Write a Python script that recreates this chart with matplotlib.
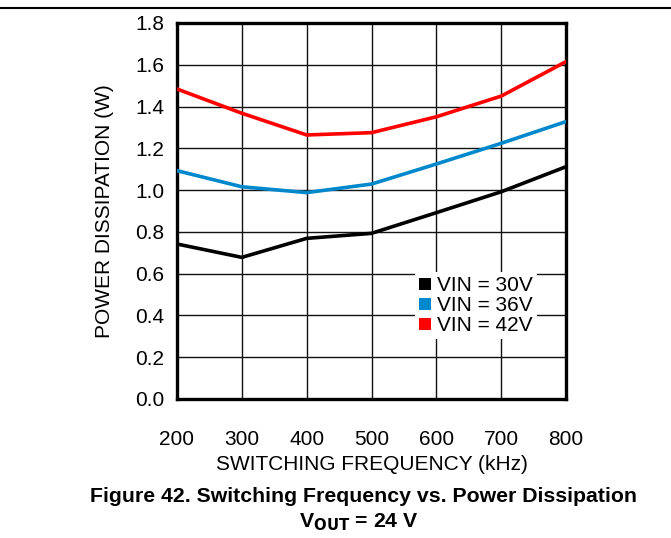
import matplotlib
matplotlib.use("Agg")
import matplotlib.pyplot as plt
from matplotlib.patches import Patch
from matplotlib.lines import Line2D

plt.rcParams['font.family'] = ['Liberation Sans', 'DejaVu Sans']

freq = [200, 300, 400, 500, 600, 700, 800]
vin30 = [0.742, 0.678, 0.769, 0.793, 0.892, 0.992, 1.112]
vin36 = [1.093, 1.016, 0.988, 1.029, 1.125, 1.224, 1.328]
vin42 = [1.484, 1.368, 1.264, 1.275, 1.351, 1.450, 1.615]
labels = ["VIN = 30V", "VIN = 36V", "VIN = 42V"]
colors = ["#000000", "#0088CC", "#FF0000"]
xticks = [200, 300, 400, 500, 600, 700, 800]
yticks = [0.0, 0.2, 0.4, 0.6, 0.8, 1.0, 1.2, 1.4, 1.6, 1.8]

W, H = 671, 538
FS = 15
fig = plt.figure(figsize=(W / 100, H / 100), dpi=100)
ax = fig.add_axes([177 / W, 1 - 399 / H, (566 - 177) / W, (399 - 23) / H])

for y, lab, c in zip([vin30, vin36, vin42], labels, colors):
    ax.plot(freq, y, color=c, lw=2.6, solid_joinstyle='round', zorder=3)

ax.set_xlim(200, 800)
ax.set_ylim(0, 1.8)
ax.set_xticks(xticks)
ax.set_yticks(yticks)
ax.set_yticklabels([f"{v:.1f}" for v in yticks])
ax.grid(True, color='#111111', lw=1.0)
ax.tick_params(axis='x', length=0, labelsize=FS, pad=22)
ax.tick_params(axis='y', length=0, labelsize=FS, pad=9)
for s in ax.spines.values():
    s.set_linewidth(2.4)
ax.set_xlabel("SWITCHING FREQUENCY (kHz)", fontsize=FS)
ax.xaxis.set_label_coords(0.5, (399 - 464) / 376)
ax.xaxis.label.set_va('center')
ax.set_ylabel("POWER DISSIPATION (W)", fontsize=FS)
ax.yaxis.set_label_coords((104 - 177) / 389, 0.5)
ax.yaxis.label.set_va('center')

handles = [Patch(facecolor=c, edgecolor='none') for c in colors]
leg = ax.legend(handles, labels, loc='upper left',
                bbox_to_anchor=((415 - 177) / 389, (399 - 272) / 376),
                frameon=True, fontsize=FS, handlelength=0.55, handleheight=0.55,
                handletextpad=0.3, labelspacing=0.05, borderpad=0.2,
                borderaxespad=0, fancybox=False)
leg.get_frame().set_edgecolor('none')
leg.get_frame().set_facecolor('white')
leg.get_frame().set_alpha(1)
leg.set_zorder(5)

fig.add_artist(Line2D([0, 1], [1 - 8 / H, 1 - 8 / H], color='black', lw=1.5))
fig.text(363 / W, 1 - 496 / H, "Figure 42. Switching Frequency vs. Power Dissipation",
         ha='center', va='center', fontsize=15.3, fontweight='bold')
fig.text(359 / W, 1 - 522 / H, r"V$_{\mathbf{OUT}}$ = 24 V",
         ha='center', va='center', fontsize=15.3, fontweight='bold')

fig.savefig("out.png", dpi=100)
